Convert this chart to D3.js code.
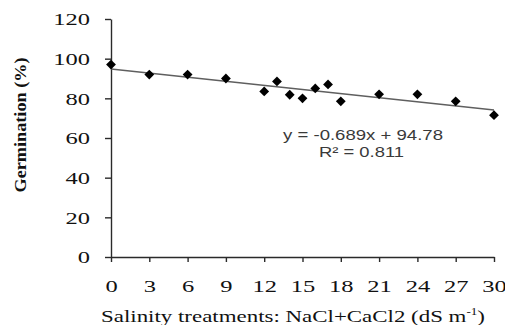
<!DOCTYPE html>
<html>
<head>
<meta charset="utf-8">
<script src="https://cdn.jsdelivr.net/npm/d3@7"></script>
<style>
  html, body { margin: 0; padding: 0; background: #fff; }
  svg { display: block; }
  .serif { font-family: "Liberation Serif", "DejaVu Serif", "Times New Roman", Times, serif; }
  .sans { font-family: "Liberation Sans", Arial, Helvetica, sans-serif; }
</style>
</head>
<body>
<svg id="chart" width="505" height="325"></svg>
<script>
// Germination (%) under increasing salinity (NaCl + CaCl2, dS m-1)
const salinity    = [0, 3, 6, 9, 12, 13, 14, 15, 16, 17, 18, 21, 24, 27, 30];
const germination = [97, 92, 92, 90, 83.5, 88.5, 81.8, 80, 85, 87, 78.5, 82, 82, 78.5, 71.5];
const xTicks = [0, 3, 6, 9, 12, 15, 18, 21, 24, 27, 30];
const yTicks = [0, 20, 40, 60, 80, 100, 120];
// Linear trend reported for the series
const trendSlope = -0.689;
const trendIntercept = 94.78;
const rSquared = 0.811;

const svg = d3.select("#chart");
const stretchX = 1.4;   // wide letterforms used throughout the figure

// widen a text element horizontally around its anchor
function widen(sel, k) {
  sel.each(function () {
    const w = this.getComputedTextLength();
    d3.select(this).attr("textLength", w * k).attr("lengthAdjust", "spacingAndGlyphs");
  });
}

const x = d3.scaleLinear().domain([0, 30]).range([111, 494]);
const y = d3.scaleLinear().domain([0, 120]).range([257, 19]);

// Axes
const xAxis = svg.append("g")
  .attr("transform", `translate(0,${y(0)})`)
  .call(d3.axisBottom(x).tickValues(xTicks).tickSize(5).tickSizeOuter(0).tickPadding(0));
const yAxis = svg.append("g")
  .attr("transform", `translate(${x(0)},0)`)
  .call(d3.axisLeft(y).tickValues(yTicks).tickSize(6).tickSizeOuter(0).tickPadding(0));

[xAxis, yAxis].forEach(g => {
  g.attr("font-family", null).attr("font-size", null);
  g.select(".domain").attr("stroke", "#2a2a2a").attr("stroke-width", 1.4);
  g.selectAll(".tick line").attr("stroke", "#2a2a2a").attr("stroke-width", 1.4);
  g.selectAll(".tick text")
    .attr("class", "serif")
    .style("font-size", "17.5px")
    .attr("fill", "#111");
});

xAxis.selectAll(".tick text")
  .attr("x", 0).attr("y", 35).attr("dy", 0)
  .call(widen, stretchX);

yAxis.selectAll(".tick text")
  .attr("x", -21).attr("dy", "0.33em")
  .call(widen, stretchX);

// Axis titles
const xTitle = svg.append("text")
  .attr("class", "serif")
  .attr("x", 293).attr("y", 322)
  .attr("text-anchor", "middle")
  .style("font-size", "17.5px").attr("fill", "#111")
  .attr("textLength", 384).attr("lengthAdjust", "spacingAndGlyphs");
xTitle.append("tspan").text("Salinity treatments: NaCl+CaCl2 (dS m");
xTitle.append("tspan").style("font-size", "10px").attr("dy", -7).text("-1");
xTitle.append("tspan").attr("dy", 7).text(")");

svg.append("text")
  .attr("class", "serif")
  .attr("transform", "translate(26,125) rotate(-90)")
  .attr("text-anchor", "middle")
  .style("font-size", "17px").style("font-weight", "bold")
  .attr("fill", "#111")
  .attr("textLength", 135).attr("lengthAdjust", "spacingAndGlyphs")
  .text("Germination (%)");

// Trend line
const trend = v => trendSlope * v + trendIntercept;
svg.append("line")
  .attr("x1", x(0)).attr("y1", y(trend(0)))
  .attr("x2", x(30)).attr("y2", y(trend(30)))
  .attr("stroke", "#5f5f5f").attr("stroke-width", 1.4);

// Observations (diamond markers)
const diamond = d3.symbol().type(d3.symbolSquare).size(48);
svg.append("g").selectAll("path")
  .data(salinity.map((s, i) => [s, germination[i]]))
  .join("path")
  .attr("d", diamond)
  .attr("transform", d => `translate(${x(d[0])},${y(d[1])}) rotate(45)`)
  .attr("fill", "#000");

// Regression annotation
const fmtSigned = v => (v < 0 ? "-" : "+ ") + Math.abs(v);
svg.append("text")
  .attr("class", "sans")
  .attr("x", 363).attr("y", 140)
  .attr("text-anchor", "middle")
  .style("font-size", "14px").attr("fill", "#3a3a3a")
  .attr("textLength", 160).attr("lengthAdjust", "spacingAndGlyphs")
  .text(`y = ${fmtSigned(trendSlope)}x  ${fmtSigned(trendIntercept)}`);
svg.append("text")
  .attr("class", "sans")
  .attr("x", 361.5).attr("y", 157)
  .attr("text-anchor", "middle")
  .style("font-size", "14px").attr("fill", "#3a3a3a")
  .attr("textLength", 85).attr("lengthAdjust", "spacingAndGlyphs")
  .text(`R² = ${rSquared}`);
</script>
</body>
</html>
